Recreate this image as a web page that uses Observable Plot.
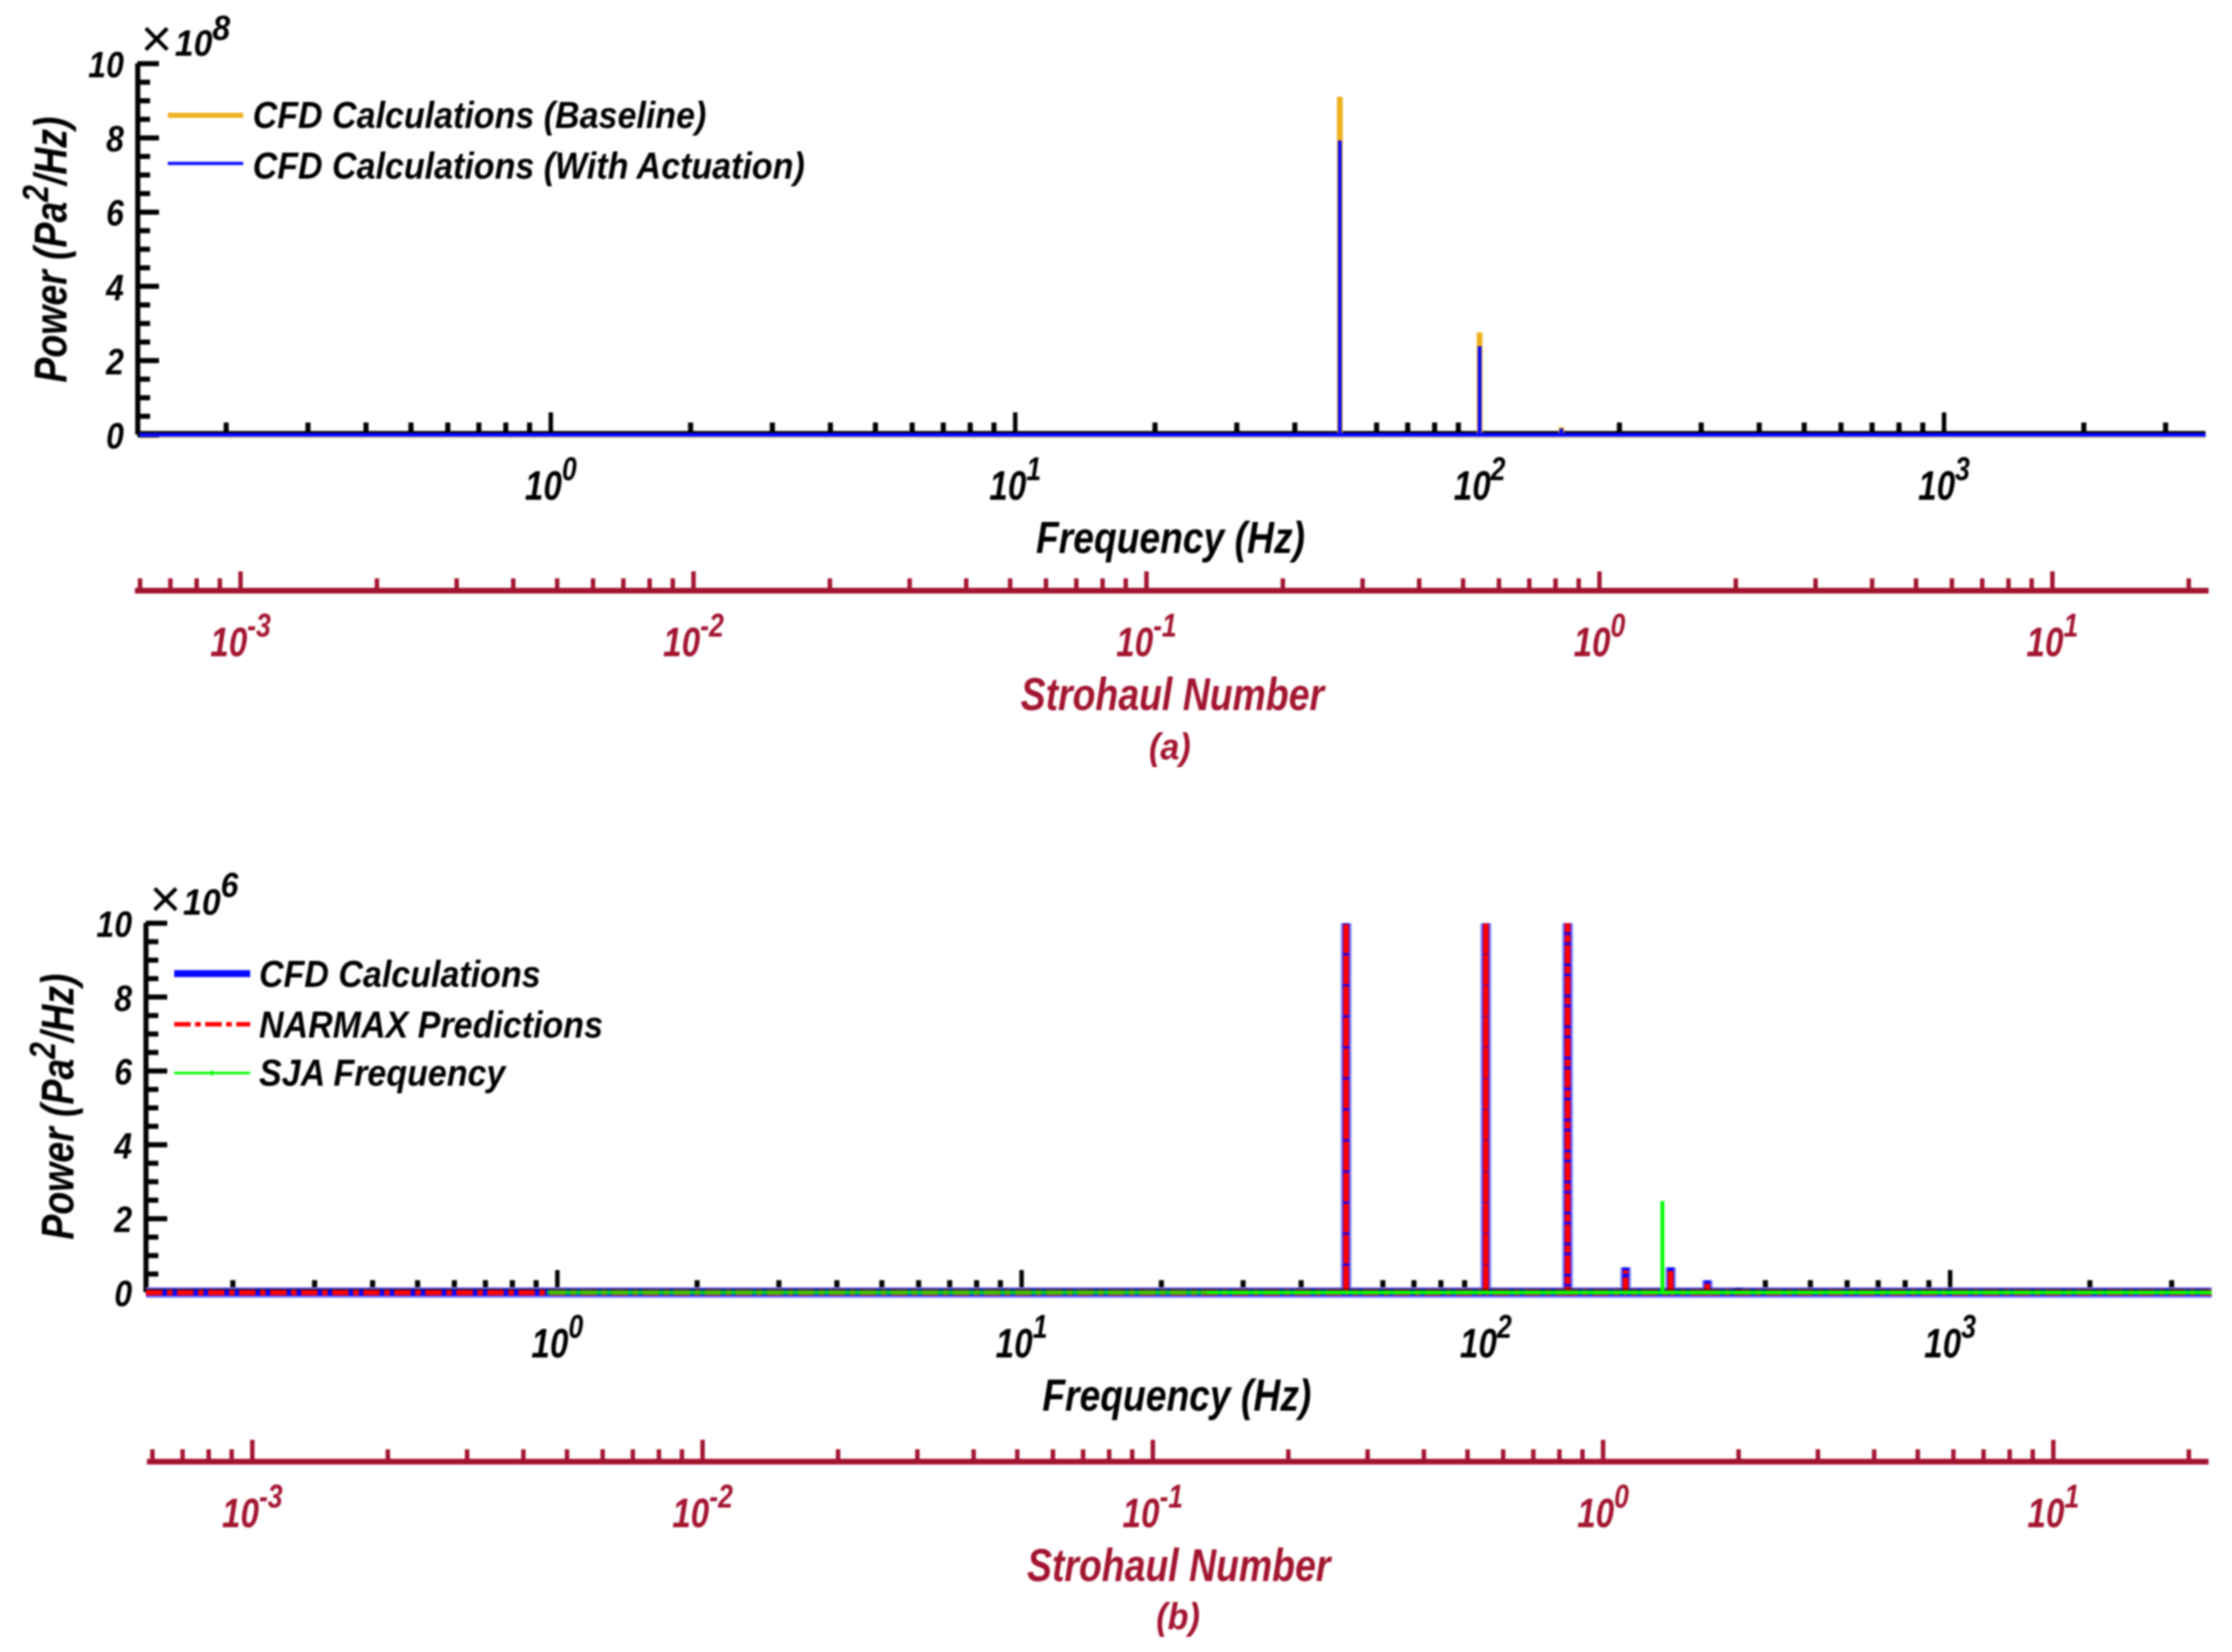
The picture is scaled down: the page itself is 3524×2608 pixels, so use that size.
<!DOCTYPE html>
<html><head><meta charset="utf-8">
<script src="https://cdn.jsdelivr.net/npm/d3@7"></script>
<script src="https://cdn.jsdelivr.net/npm/@observablehq/plot@0.6"></script>
<style>
html,body{margin:0;padding:0;background:#fff}
#page{position:relative;width:3524px;height:2608px;overflow:hidden;filter:blur(1.4px);font-family:"Liberation Sans",Arial,sans-serif;font-weight:bold;font-style:italic;color:#000}
#page svg{position:absolute;overflow:visible;background:transparent}
.t{position:absolute;white-space:nowrap;line-height:1}
.sup{font-size:.8em;position:relative;top:-.5em}
</style></head><body><div id="page"></div>
<script>
const freqA = [0.13, 50, 50, 50, 100, 100, 100, 150, 150, 150, 3660];
const baselineA = [0, 0, 9.1e8, 0, 0, 2.75e8, 0, 0, 0.2e8, 0, 0];
const actuationA = [0, 0, 7.93e8, 0, 0, 2.39e8, 0, 0, 0.17e8, 0, 0];
const freqB = [0.13, 33, 33, 33, 50, 50, 50, 100, 100, 100, 150, 150, 150, 200, 200, 200, 250, 250, 250, 300, 300, 300, 350, 350, 350, 3660];
const cfdB = [0, 0, 0.06e6, 0, 0, 1e7, 0, 0, 1e7, 0, 0, 1e7, 0, 0, 0.68e6, 0, 0, 0.68e6, 0, 0, 0.33e6, 0, 0, 0.12e6, 0, 0];
const narmaxB = [0, 0, 0, 0, 0, 1e7, 0, 0, 1e7, 0, 0, 1e7, 0, 0, 0.6e6, 0, 0, 0.6e6, 0, 0, 0.24e6, 0, 0, 0, 0, 0];
const freqSJALow = [0.95, 25];
const powerSJALow = [0, 0];
const freqSJA = [25, 240, 240, 240, 3660];
const powerSJA = [0, 0, 2.48e6, 0, 0];
const freqMajor = [1, 10, 100, 1000];
const freqMinor = [0.2,0.3,0.4,0.5,0.6,0.7,0.8,0.9,2,3,4,5,6,7,8,9,20,30,40,50,60,70,80,90,200,300,400,500,600,700,800,900,2000,3000];
const stMajor = [0.001, 0.01, 0.1, 1, 10];
const stMinor = [6e-4,7e-4,8e-4,9e-4,2e-3,3e-3,4e-3,5e-3,6e-3,7e-3,8e-3,9e-3,0.02,0.03,0.04,0.05,0.06,0.07,0.08,0.09,0.2,0.3,0.4,0.5,0.6,0.7,0.8,0.9,2,3,4,5,6,7,8,9,20];
const yMajor = [0, 2, 4, 6, 8, 10];
const yMinor = [0.5,1,1.5,2.5,3,3.5,4.5,5,5.5,6.5,7,7.5,8.5,9,9.5];
const legendA = ["CFD Calculations (Baseline)", "CFD Calculations (With Actuation)"];
const legendB = ["CFD Calculations", "NARMAX Predictions", "SJA Frequency"];
const COLORS = {orange:"#EFB01C", pale:"#EFE6C2", blue:"#0808FF", halo:"#8c8cff", red:"#FF0000", green:"#00FF00", maroon:"#A2142F"};

const page = document.getElementById("page");
const FONT = {fontFamily:'"Liberation Sans",Arial,sans-serif'};
const BASE = 0.8465; // baseline position inside a line-height:1 box, in em

function squeeze(svg, sel, sx){
  d3.select(svg).selectAll(sel).each(function(){
    const t = this.getAttribute("transform") || "";
    this.setAttribute("transform", t+` scale(${sx},1)`);
  });
}
function sup(svg, sel){
  d3.select(svg).selectAll(sel).each(function(){
    const el = d3.select(this);
    const [b,e] = el.text().split("^");
    el.text(b);
    el.append("tspan").attr("dy","-0.6em").attr("font-size","0.8em").text(e);
  });
}
function place(svg){ svg.style.left = "0px"; svg.style.top = "0px"; page.appendChild(svg); }
// text placed by baseline; align: 'l' left edge at x, 'c' centred on x
function label(x, baseline, size, sx, content, {align="l", color, weight}={}){
  const d = document.createElement("div");
  d.className = "t"; d.style.left = x+"px"; d.style.top = (baseline-BASE*size)+"px"; d.style.fontSize = size+"px";
  d.style.transformOrigin = "0 0";
  d.style.transform = align==="c" ? `scale(${sx},1) translateX(-50%)` : `scale(${sx},1)`;
  if(color) d.style.color = color;
  if(weight) {d.style.fontWeight = weight; d.style.fontStyle="normal";}
  d.innerHTML = content; page.appendChild(d); return d;
}
function ylabel(cx, cy, size, sx, content){
  const d = document.createElement("div");
  d.className = "t"; d.style.left = cx+"px"; d.style.top = cy+"px"; d.style.fontSize = size+"px";
  d.style.transform = `translate(-50%,-50%) rotate(-90deg) scale(${sx},1)`;
  d.innerHTML = content; page.appendChild(d);
}
const pts = (xs, ys) => xs.map((x,i)=>({x, y:ys[i]}));
function lineMark(xs, ys, stroke, width, extra={}){
  return Plot.line(pts(xs,ys), {x:"x", y:"y", stroke, strokeWidth:width, strokeLinejoin:"bevel", strokeLinecap:"butt", ...extra});
}
const AXF = {fontSize:64,fontWeight:"bold",fontStyle:"italic",...FONT,label:null};
function mainPanel({x0,x1,yTop,yZero,domainX,unit,under,series}){
  const svg = Plot.plot({
    width:3524, height:yZero+200, style:{background:"transparent",overflow:"visible"},
    marginLeft:x0, marginRight:3524-x1, marginTop:yTop, marginBottom:200,
    x:{type:"log", domain:domainX},
    y:{domain:[0,10*unit]},
    marks:[
      ...under,
      Plot.ruleY([0],{stroke:"#000",strokeWidth:6,dy:-3}),
      Plot.ruleX([domainX[0]],{stroke:"#000",strokeWidth:8}),
      Plot.tickX(freqMinor,{x:d=>d,stroke:"#000",strokeWidth:8,insetTop:yZero-yTop-19}),
      Plot.tickX(freqMajor,{x:d=>d,stroke:"#000",strokeWidth:7,insetTop:yZero-yTop-35}),
      Plot.tickY(yMinor,{y:d=>d*unit,stroke:"#000",strokeWidth:8,insetRight:x1-x0-20}),
      Plot.tickY(yMajor,{y:d=>d*unit,stroke:"#000",strokeWidth:8,insetRight:x1-x0-34}),
      Plot.axisY({ticks:yMajor.map(d=>d*unit),tickSize:0,tickPadding:22,tickFormat:d=>String(d/unit),...AXF,fontSize:58,dy:3}),
      Plot.axisX({ticks:freqMajor,tickSize:0,tickPadding:57,tickFormat:d=>"10^"+Math.round(Math.log10(d)),...AXF}),
      ...series
    ]
  });
  place(svg);
  sup(svg,'[aria-label="x-axis tick label"] text');
  squeeze(svg,'[aria-label="x-axis tick label"] text',0.82);
  squeeze(svg,'[aria-label="y-axis tick label"] text',0.87);
}
function stPanel({x0,x1,yLine,domainX,major}){
  const svg = Plot.plot({
    width:3524, height:yLine+200, style:{background:"transparent",overflow:"visible"},
    marginLeft:x0, marginRight:3524-x1, marginTop:yLine-60, marginBottom:200,
    x:{type:"log", domain:domainX},
    marks:[
      Plot.frame({anchor:"bottom",stroke:COLORS.maroon,strokeWidth:9}),
      Plot.tickX(stMinor,{x:d=>d,stroke:COLORS.maroon,strokeWidth:7,insetTop:60-19}),
      Plot.tickX(stMajor,{x:d=>d,stroke:COLORS.maroon,strokeWidth:7,insetTop:60-major}),
      Plot.axisX({ticks:stMajor,tickSize:0,tickPadding:58,tickFormat:d=>"10^"+Math.round(Math.log10(d)),...AXF,fill:COLORS.maroon})
    ]
  });
  place(svg);
  sup(svg,'[aria-label="x-axis tick label"] text');
  squeeze(svg,'[aria-label="x-axis tick label"] text',0.82);
}
function swatch(left, y, len, color, width, dash, mark){
  const s = d3.create("svg").attr("width",len).attr("height",30).style("left",left+"px").style("top",(y-15)+"px");
  s.append("line").attr("x1",0).attr("x2",len).attr("y1",15).attr("y2",15).attr("stroke",color).attr("stroke-width",width).attr("stroke-dasharray",dash||null);
  if(mark) s.append("line").attr("x1",len/2).attr("x2",len/2).attr("y1",11).attr("y2",19).attr("stroke",color).attr("stroke-width",3);
  page.appendChild(s.node());
}
const MAROON = {color:COLORS.maroon};
const sp = t => `<span class="sup">${t}</span>`;

// Panel (a)
const baselinePts = pts(freqA,baselineA);
mainPanel({x0:217,x1:3482,yTop:100,yZero:686,domainX:[0.129,3660],unit:1e8,
  under:[lineMark([freqA[0],freqA[freqA.length-1]],[0,0],COLORS.pale,13)],
  series:[
    Plot.ruleX(baselinePts.filter(d=>d.y>0),{x:"x",y:"y",stroke:COLORS.orange,strokeWidth:9}),
    lineMark(freqA,actuationA,COLORS.blue,6)
  ]});
stPanel({x0:217,x1:3482,yLine:932,domainX:[5.93e-4,21.8],major:30});
ylabel(80,394,72,0.82,`Power (Pa${sp(2)}/Hz)`);
label(222,90,86,1,"×",{weight:"normal"});
label(276,88,58,0.92,`10<span style="font-size:.95em;position:relative;top:-.45em">8</span>`);
label(1848,873,70,0.84,"Frequency (Hz)",{align:"c"});
label(1851,1121,72,0.82,"Strohaul Number",{align:"c",...MAROON});
label(1847,1200,60,0.9,"(a)",{align:"c",...MAROON});
swatch(265,182,119,COLORS.orange,8);
swatch(265,258,119,COLORS.blue,5);
label(399,203,60,0.895,legendA[0]);
label(399,283,60,0.895,legendA[1]);

// Panel (b)
mainPanel({x0:230,x1:3488,yTop:1457,yZero:2040,domainX:[0.13,3620],unit:1e6,under:[],series:[
  lineMark(freqB,cfdB,COLORS.halo,17),
  lineMark(freqB,cfdB,COLORS.blue,11),
  lineMark(freqB,narmaxB,COLORS.red,9,{strokeDasharray:"26,7,9,7"}),
  Plot.ruleY([0],{stroke:"#000",strokeWidth:4,dy:-5,strokeOpacity:0.4}),
  lineMark(freqSJALow,powerSJALow,COLORS.green,7,{strokeOpacity:0.75}),
  lineMark(freqSJA,powerSJA,COLORS.green,6)
]});
stPanel({x0:236,x1:3482,yLine:2307,domainX:[5.92e-4,21.8],major:34});
ylabel(91,1747,72,0.82,`Power (Pa${sp(2)}/Hz)`);
label(236,1448,86,1,"×",{weight:"normal"});
label(289,1444,58,0.92,`10<span style="font-size:.95em;position:relative;top:-.5em">6</span>`);
label(1858,2227,70,0.84,"Frequency (Hz)",{align:"c"});
label(1861,2496,72,0.82,"Strohaul Number",{align:"c",...MAROON});
label(1860,2573,60,0.9,"(b)",{align:"c",...MAROON});
swatch(275,1537,120,COLORS.blue,11);
swatch(275,1617,120,COLORS.red,7,"26,7,9,7");
swatch(275,1694,120,COLORS.green,4,null,true);
label(409,1559,60,0.895,legendB[0]);
label(409,1639,60,0.895,legendB[1]);
label(409,1715,60,0.895,legendB[2]);
</script></body></html>
